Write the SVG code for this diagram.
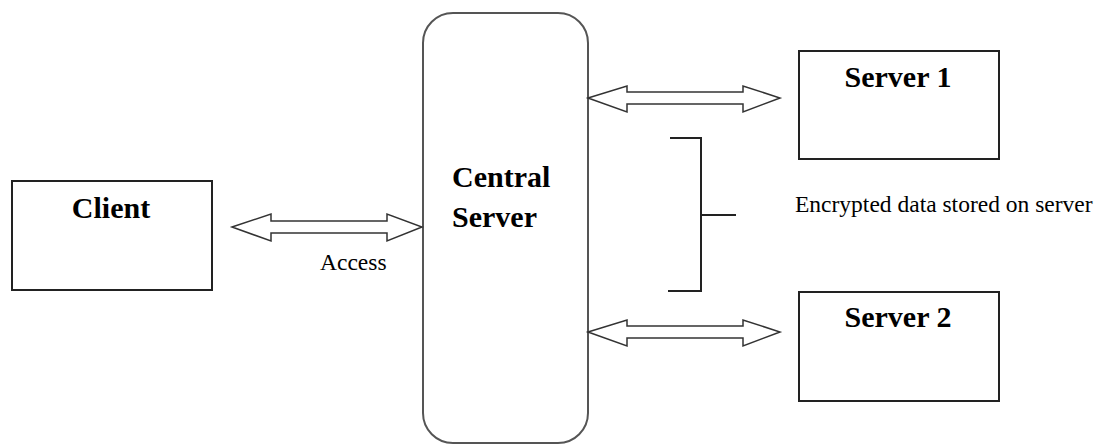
<svg xmlns="http://www.w3.org/2000/svg" width="1102" height="445" viewBox="0 0 1102 445">
<style>
.box{fill:#fff;stroke:#222;stroke-width:2}
.rbox{fill:#fff;stroke:#555;stroke-width:2}
.arr{fill:#fff;stroke:#333;stroke-width:1.5;stroke-linejoin:miter}
.ln{stroke:#222;stroke-width:2;fill:none}
.t{font-family:"Liberation Serif","Times New Roman",serif;font-weight:bold;font-size:30px;fill:#000}
.s{font-family:"Liberation Serif","Times New Roman",serif;font-size:23.5px;fill:#000}
</style>
<rect width="1102" height="445" fill="#fff"/>
<g id="client">
<rect class="box" x="12" y="181" width="200" height="109"/>
<text class="t" x="111" y="218" text-anchor="middle">Client</text>
</g>
<g id="central">
<rect class="rbox" x="423" y="13" width="165" height="430" rx="30" ry="30"/>
<text class="t" x="452" y="187">Central</text>
<text class="t" x="452" y="227">Server</text>
</g>
<g id="server1">
<rect class="box" x="799" y="51" width="200" height="108"/>
<text class="t" x="898" y="87" text-anchor="middle">Server 1</text>
</g>
<g id="server2">
<rect class="box" x="799" y="292" width="200" height="109"/>
<text class="t" x="898" y="327" text-anchor="middle">Server 2</text>
</g>
<g id="connectors">
<polygon class="arr" points="232,227 271,214 271,221 387,221 387,214 422,227 387,241 387,233 271,233 271,241"/>
<polygon class="arr" points="588,98 627,86 627,92 743,92 743,86 780,98 743,112 743,104 627,104 627,112"/>
<polygon class="arr" points="588,332 627,320 627,326 743,326 743,320 780,332 743,346 743,338 627,338 627,346"/>
<polyline class="ln" points="670,138 701,138 701,291 668,291"/>
<line class="ln" x1="701" y1="215" x2="736" y2="215"/>
</g>
<g id="labels">
<text class="s" x="320" y="270">Access</text>
<text class="s" x="795" y="212">Encrypted data stored on server</text>
</g>
</svg>
